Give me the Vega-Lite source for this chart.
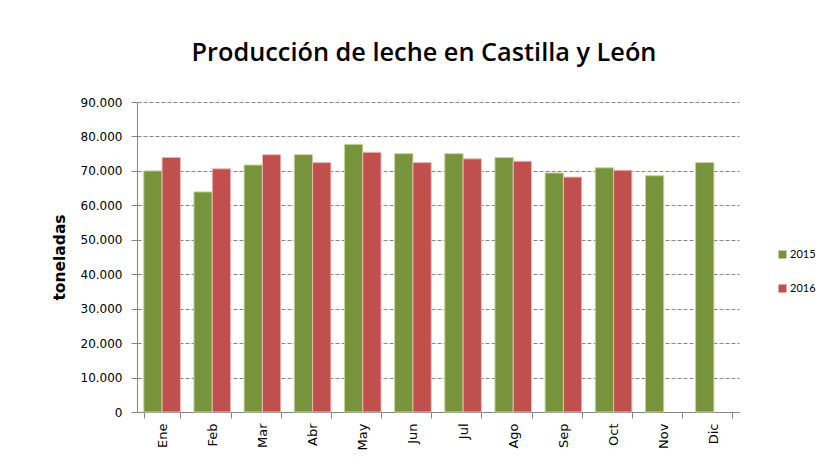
{
  "$schema": "https://vega.github.io/schema/vega-lite/v6.json",
  "width": 602,
  "height": 310,
  "autosize": {"type": "none"},
  "padding": {"left": 137, "top": 102, "right": 90, "bottom": 47},
  "background": "white",
  "config": {
    "locale": {"number": {"decimal": ",", "thousands": ".", "grouping": [3], "currency": ["", " €"]}},
    "view": {"stroke": null}
  },
  "title": {
    "text": "Producción de leche en Castilla y León",
    "font": "Open Sans",
    "fontSize": 25.3,
    "fontWeight": 600,
    "color": "#000000",
    "anchor": "middle",
    "frame": "group",
    "dx": -14,
    "offset": 30
  },
  "data": {
    "values": [
      {"mes": "Ene", "anio": "2015", "toneladas": 70000},
      {"mes": "Ene", "anio": "2016", "toneladas": 73900},
      {"mes": "Feb", "anio": "2015", "toneladas": 63900},
      {"mes": "Feb", "anio": "2016", "toneladas": 70600},
      {"mes": "Mar", "anio": "2015", "toneladas": 71700},
      {"mes": "Mar", "anio": "2016", "toneladas": 74700},
      {"mes": "Abr", "anio": "2015", "toneladas": 74700},
      {"mes": "Abr", "anio": "2016", "toneladas": 72400},
      {"mes": "May", "anio": "2015", "toneladas": 77700},
      {"mes": "May", "anio": "2016", "toneladas": 75400},
      {"mes": "Jun", "anio": "2015", "toneladas": 75000},
      {"mes": "Jun", "anio": "2016", "toneladas": 72400},
      {"mes": "Jul", "anio": "2015", "toneladas": 75000},
      {"mes": "Jul", "anio": "2016", "toneladas": 73500},
      {"mes": "Ago", "anio": "2015", "toneladas": 73900},
      {"mes": "Ago", "anio": "2016", "toneladas": 72800},
      {"mes": "Sep", "anio": "2015", "toneladas": 69400},
      {"mes": "Sep", "anio": "2016", "toneladas": 68200},
      {"mes": "Oct", "anio": "2015", "toneladas": 70900},
      {"mes": "Oct", "anio": "2016", "toneladas": 70200},
      {"mes": "Nov", "anio": "2015", "toneladas": 68600},
      {"mes": "Dic", "anio": "2015", "toneladas": 72400}
    ]
  },
  "mark": {"type": "bar", "strokeWidth": 1},
  "encoding": {
    "x": {
      "field": "mes",
      "type": "nominal",
      "sort": ["Ene", "Feb", "Mar", "Abr", "May", "Jun", "Jul", "Ago", "Sep", "Oct", "Nov", "Dic"],
      "scale": {"paddingInner": 0.27, "paddingOuter": 0.135},
      "axis": {
        "title": null,
        "labelAngle": 270,
        "labelFont": "DejaVu Sans",
        "labelFontSize": 13,
        "labelColor": "#000000",
        "labelPadding": 5,
        "tickBand": "extent",
        "tickSize": 6,
        "tickColor": "#868686",
        "domainColor": "#868686",
        "grid": false
      }
    },
    "xOffset": {"field": "anio", "type": "nominal", "sort": ["2015", "2016"]},
    "y": {
      "field": "toneladas",
      "type": "quantitative",
      "scale": {"domain": [0, 90000], "nice": false},
      "axis": {
        "title": "toneladas",
        "titleFont": "DejaVu Sans",
        "titleFontSize": 15.5,
        "titleFontWeight": "bold",
        "titleColor": "#000000",
        "titleX": -78,
        "titleY": 155,
        "titleAlign": "center",
        "titleBaseline": "middle",
        "titleAngle": 270,
        "values": [0, 10000, 20000, 30000, 40000, 50000, 60000, 70000, 80000, 90000],
        "format": ",.0f",
        "labelFont": "DejaVu Sans",
        "labelFontSize": 12,
        "labelColor": "#000000",
        "labelPadding": 9,
        "tickSize": 6,
        "tickColor": "#868686",
        "domainColor": "#868686",
        "grid": true,
        "gridColor": "#868686",
        "gridDash": [4, 2],
        "gridWidth": 1
      }
    },
    "color": {
      "field": "anio",
      "type": "nominal",
      "scale": {"domain": ["2015", "2016"], "range": ["#77933C", "#C0504D"]},
      "legend": {
        "title": null,
        "orient": "none",
        "legendX": 640,
        "legendY": 147,
        "symbolType": "square",
        "symbolSize": 64,
        "symbolStrokeWidth": 0,
        "rowPadding": 22,
        "labelFont": "Lato",
        "labelFontSize": 11,
        "labelColor": "#000000",
        "labelOffset": 2,
        "padding": 0
      }
    },
    "stroke": {
      "field": "anio",
      "type": "nominal",
      "scale": {"domain": ["2015", "2016"], "range": ["#C3D69B", "#E6B9B8"]},
      "legend": null
    }
  }
}
